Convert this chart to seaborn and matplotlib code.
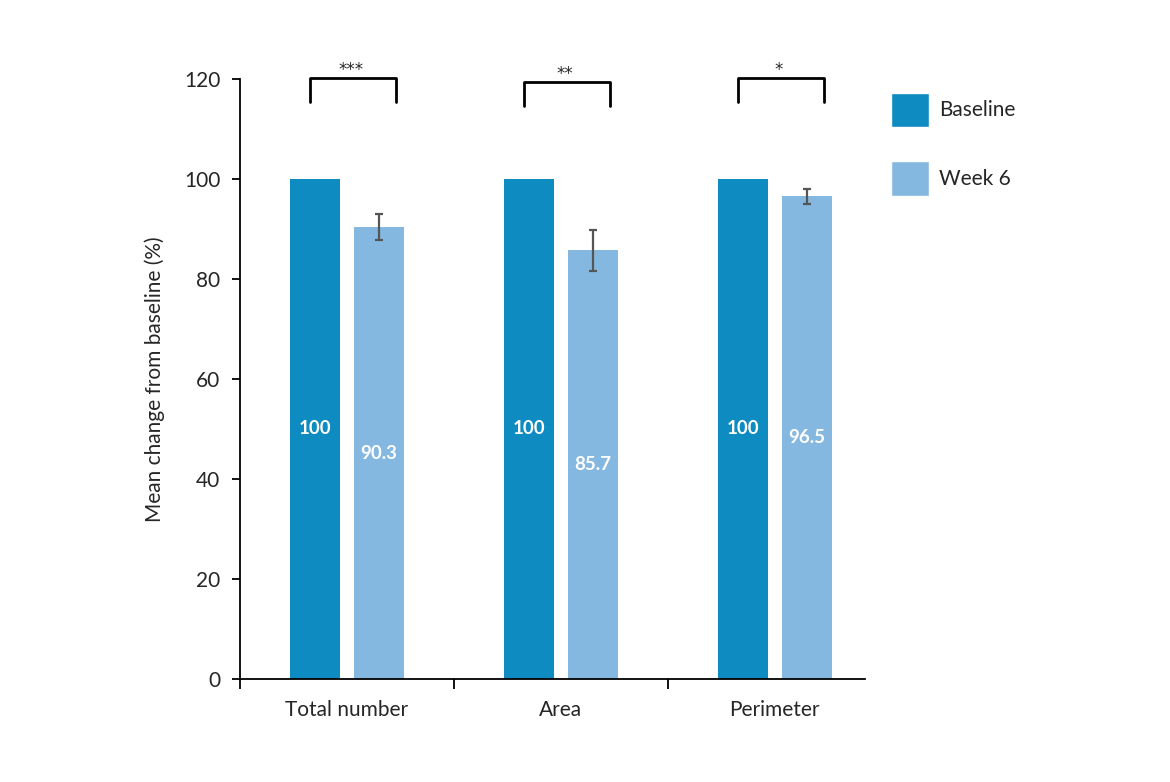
import matplotlib
matplotlib.use("Agg")
import matplotlib.pyplot as plt
from matplotlib.patches import Patch
import pandas as pd
import seaborn as sns

# data
categories = ["Total number", "Area", "Perimeter"]
groups = ["Baseline", "Week 6"]
baseline = [100, 100, 100]
week6 = [90.3, 85.7, 96.5]
week6_err = [2.6, 4.1, 1.5]
stars = ["***", "**", "*"]

colors = {"Baseline": "#0e8bc0", "Week 6": "#85b8e0"}

df = pd.DataFrame({
    "category": categories * 2,
    "group": ["Baseline"] * 3 + ["Week 6"] * 3,
    "value": baseline + week6,
})

sns.set_style("white")
plt.rcParams["font.family"] = ["Lato", "DejaVu Sans"]

fig = plt.figure(figsize=(11.7, 7.82), dpi=100)
ax = fig.add_axes([0.205, 0.132, 0.534, 0.767])

sns.barplot(data=df, x="category", y="value", hue="group", order=categories,
            hue_order=groups, palette=colors, width=0.6, gap=0.22,
            saturation=1, legend=False, ax=ax, errorbar=None, linewidth=0)

# bars in draw order: baseline x3, week6 x3
bars = ax.patches
base_bars = bars[:3]
wk_bars = bars[3:6]

for b, v in zip(base_bars, baseline):
    ax.text(b.get_x() + b.get_width() / 2, v / 2, f"{v:g}", ha="center", va="center",
            color="white", fontsize=13.5, fontweight="bold")
for b, v, e in zip(wk_bars, week6, week6_err):
    xc = b.get_x() + b.get_width() / 2
    ax.errorbar(xc, v, yerr=e, color="#555555", capsize=3, lw=1.6, capthick=1.6)
    ax.text(xc, v / 2, f"{v:g}", ha="center", va="center",
            color="white", fontsize=13.5, fontweight="bold")

# significance brackets
for i, s in enumerate(stars):
    xl = i - 0.17
    xr = i + 0.228
    top = 120.2 if i != 1 else 119.4
    ax.plot([xl, xl, xr, xr], [top - 4.8, top, top, top - 4.8], color="black",
            lw=2, clip_on=False, solid_joinstyle="round")
    ax.text((xl + xr) / 2 - 0.01, top - 0.3, s, ha="center", va="bottom",
            fontsize=12, family="DejaVu Sans", clip_on=False)

ax.set_ylim(0, 120)
ax.set_xlim(-0.5, 2.42)
ax.set_yticks(range(0, 121, 20))
ax.set_xticks(range(3))
ax.set_xticklabels(categories)
ax.set_xticks([-0.5, 0.5, 1.5], minor=True)
ax.tick_params(axis="x", which="major", bottom=False, labelsize=15, pad=12)
ax.tick_params(axis="x", which="minor", bottom=True, length=7, width=1.3,
               direction="out", color="black")
ax.tick_params(axis="y", left=True, length=6, width=1.3, direction="out",
               color="black", labelsize=15, pad=8)
ax.set_xlabel("")
ax.set_ylabel("Mean change from baseline (%)", fontsize=15, labelpad=14)

sns.despine(ax=ax)
for sp in ["left", "bottom"]:
    ax.spines[sp].set_color("black")
    ax.spines[sp].set_linewidth(1.3)

handles = [Patch(facecolor=colors[g], label=g) for g in groups]
fig.legend(handles=handles, loc="upper left", bbox_to_anchor=(0.758, 0.887),
           frameon=False, fontsize=15, handlelength=1.8, handleheight=2.2,
           labelspacing=1.6, handletextpad=0.5, borderaxespad=0, borderpad=0.2)

fig.savefig("out.png", dpi=100)
